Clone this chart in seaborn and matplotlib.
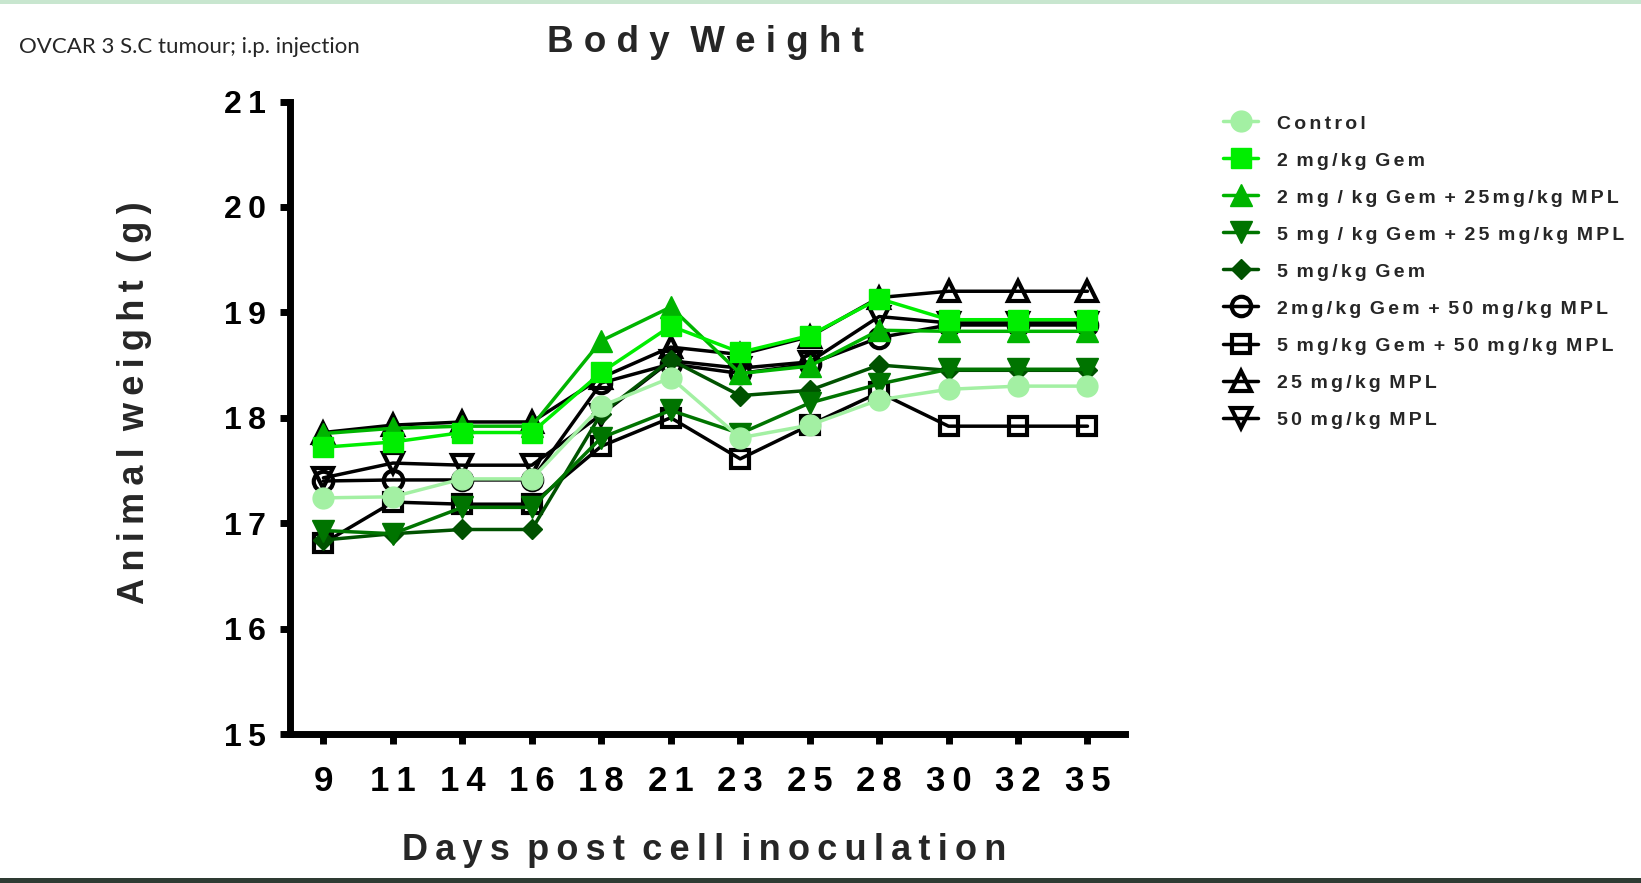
import matplotlib
matplotlib.use("Agg")
import matplotlib.pyplot as plt
import seaborn as sns
from matplotlib.patches import Rectangle

# ---------------- data ----------------
days = [9, 11, 14, 16, 18, 21, 23, 25, 28, 30, 32, 35]

control     = [17.24, 17.25, 17.42, 17.42, 18.11, 18.38, 17.81, 17.93, 18.17, 18.27, 18.30, 18.30]
gem2        = [17.72, 17.77, 17.86, 17.86, 18.43, 18.87, 18.62, 18.78, 19.13, 18.93, 18.93, 18.93]
gem2_mpl25  = [17.85, 17.90, 17.92, 17.92, 18.73, 19.05, 18.42, 18.49, 18.83, 18.82, 18.82, 18.82]
gem5_mpl25  = [16.93, 16.90, 17.15, 17.15, 17.81, 18.07, 17.85, 18.14, 18.32, 18.46, 18.46, 18.46]
gem5        = [16.84, 16.90, 16.94, 16.94, 18.04, 18.55, 18.21, 18.26, 18.50, 18.45, 18.45, 18.45]
gem2_mpl50  = [17.40, 17.41, 17.41, 17.41, 18.33, 18.51, 18.42, 18.51, 18.76, 18.88, 18.88, 18.88]
gem5_mpl50  = [16.81, 17.20, 17.18, 17.18, 17.73, 18.00, 17.61, 17.93, 18.24, 17.92, 17.92, 17.92]
mpl25       = [17.86, 17.93, 17.96, 17.96, 18.38, 18.67, 18.60, 18.77, 19.14, 19.20, 19.20, 19.20]
mpl50       = [17.43, 17.57, 17.55, 17.55, 18.03, 18.54, 18.47, 18.53, 18.96, 18.90, 18.90, 18.90]

series_labels = [
    "Control",
    "2 mg/kg Gem",
    "2 mg / kg Gem + 25mg/kg MPL",
    "5 mg / kg Gem + 25 mg/kg MPL",
    "5 mg/kg Gem",
    "2mg/kg Gem + 50 mg/kg MPL",
    "5 mg/kg Gem + 50 mg/kg MPL",
    "25 mg/kg MPL",
    "50 mg/kg MPL",
]
series_values = [control, gem2, gem2_mpl25, gem5_mpl25, gem5,
                 gem2_mpl50, gem5_mpl50, mpl25, mpl50]

y_ticks = [15, 16, 17, 18, 19, 20, 21]
title_text = "Body Weight"
note_text = "OVCAR 3 S.C tumour; i.p. injection"
x_title = "Days post cell inoculation"
y_title = "Animal weight (g)"

# ---------------- styles ----------------
styles = [
    dict(color="#a3f0a3", marker="o", ms=15.0, open=False),
    dict(color="#00ee00", marker="s", ms=14.0, open=False),
    dict(color="#00b400", marker="^", ms=15.5, open=False),
    dict(color="#007400", marker="v", ms=15.5, open=False),
    dict(color="#005200", marker="D", ms=10.5, open=False),
    dict(color="black", marker="o", ms=14.0, open=True),
    dict(color="black", marker="s", ms=13.0, open=True),
    dict(color="black", marker="^", ms=15.0, open=True),
    dict(color="black", marker="v", ms=15.0, open=True),
]

THIN = "\u2009"
HAIR = "\u200a"


def spaced(text, sep, word_sep):
    return word_sep.join(sep.join(w) for w in text.split(" "))


sns.set_style("ticks")
plt.rcParams["font.family"] = ["Liberation Sans", "DejaVu Sans"]
plt.rcParams["font.weight"] = "bold"

W, H = 1641, 883
fig = plt.figure(figsize=(W / 100, H / 100), dpi=100)
fig.patch.set_facecolor("white")

ax_left, ax_right, ax_top, ax_bottom = 289.5, 1125.0, 101.5, 734.0
ax = fig.add_axes([ax_left / W, 1 - ax_bottom / H,
                   (ax_right - ax_left) / W, (ax_bottom - ax_top) / H])

x_cats = [str(d) for d in days]
for i, (lab, vals, st) in enumerate(zip(series_labels, series_values, styles)):
    if st["open"]:
        mfc, mec, mew = "none", st["color"], 3.0
    else:
        mfc, mec, mew = st["color"], st["color"], 1.0
    sns.lineplot(x=x_cats, y=vals, ax=ax,
                 label=spaced(lab, HAIR + HAIR, " " + HAIR + HAIR),
                 color=st["color"], marker=st["marker"], markersize=st["ms"],
                 markerfacecolor=mfc, markeredgecolor=mec, markeredgewidth=mew,
                 linewidth=2.5, zorder=30 - i, sort=False, clip_on=False)

ax.set_xlim(-0.488, 11.54)
ax.set_ylim(15, 21)
ax.set_xticks(range(len(days)), labels=[THIN.join(str(d)) for d in days])
ax.set_yticks(y_ticks, labels=[THIN.join(str(t)) for t in y_ticks])

for s in ["top", "right"]:
    ax.spines[s].set_visible(False)
for s in ["left", "bottom"]:
    ax.spines[s].set_linewidth(5)
    ax.spines[s].set_color("black")
    ax.spines[s].set_capstyle("projecting")

ax.tick_params(axis="x", length=7, width=5, pad=15.5, labelsize=25, colors="black")
ax.tick_params(axis="y", length=7, width=5, pad=10, labelsize=23, colors="black")
for t in ax.get_xticklabels() + ax.get_yticklabels():
    t.set_fontweight("bold")

ax.set_xlabel(spaced(x_title, THIN, " " + THIN), fontsize=26, fontweight="bold",
              va="baseline", ha="center")
ax.xaxis.set_label_coords((704.5 - ax_left) / (ax_right - ax_left),
                          (ax_bottom - 860) / (ax_bottom - ax_top))
ax.set_ylabel(spaced(y_title, THIN, " " + THIN), fontsize=26, fontweight="bold",
              va="center", ha="center")
ax.yaxis.set_label_coords((135 - ax_left) / (ax_right - ax_left),
                          (ax_bottom - 403) / (ax_bottom - ax_top))

fig.text(705 / W, 1 - 51.7 / H, spaced(title_text, " ", "  "), fontsize=26.5,
         fontweight="bold", ha="center", va="baseline")
fig.text(19 / W, 1 - 47 / H, note_text, family=["Lato", "DejaVu Sans"],
         fontsize=16, fontweight="normal", ha="left", va="center")

leg = ax.legend(loc="upper left", bbox_to_anchor=(1223 / W, 1 - 113.5 / H),
                bbox_transform=fig.transFigure, frameon=False,
                prop=dict(weight="bold", size=14), borderpad=0, borderaxespad=0,
                handlelength=1.8, handletextpad=1.0, labelspacing=0.91,
                handleheight=1.0, numpoints=1)

fig.add_artist(Rectangle((0, 1 - 4 / H), 1, 4 / H, transform=fig.transFigure,
                         facecolor="#c8e6cf", edgecolor="none"))
fig.add_artist(Rectangle((0, 0), 1, 5 / H, transform=fig.transFigure,
                         facecolor="#2e3b33", edgecolor="none"))

fig.savefig("out.png", dpi=100, facecolor="white")
